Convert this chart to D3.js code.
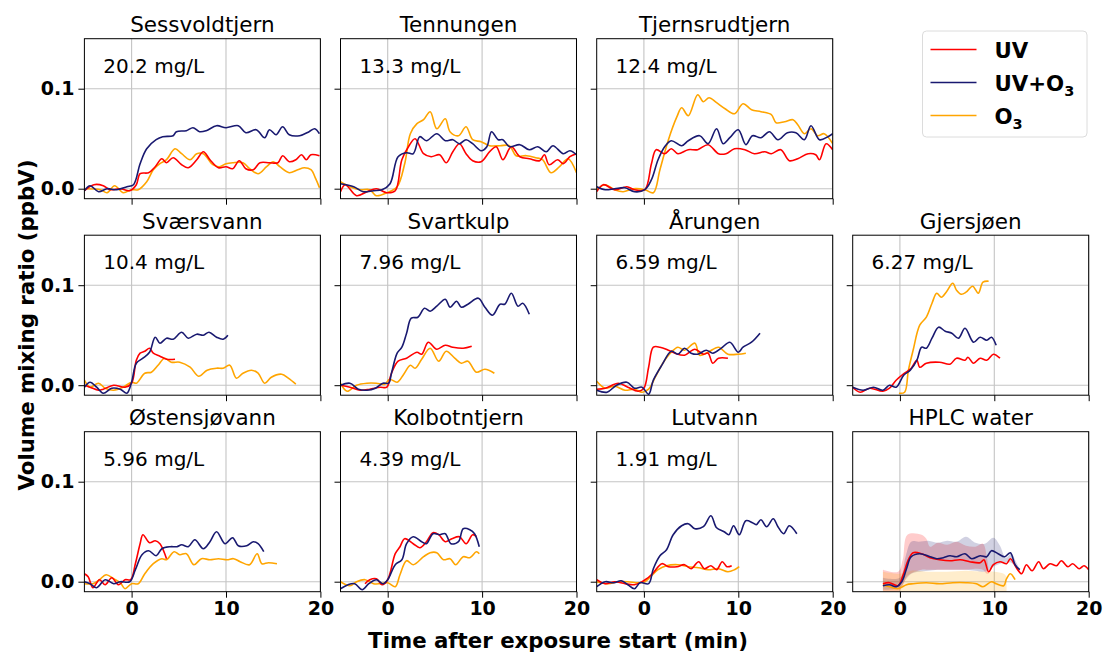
<!DOCTYPE html>
<html><head><meta charset="utf-8">
<script src="https://cdn.jsdelivr.net/npm/d3@7"></script>
<style>body{margin:0;background:#fff}svg{font-family:"DejaVu Sans",sans-serif}</style>
</head><body><svg id="c" width="1104" height="655"></svg>
<script>
const lakes = ["Sessvoldtjern","Tennungen","Tjernsrudtjern","Sværsvann","Svartkulp","Årungen","Gjersjøen","Østensjøvann","Kolbotntjern","Lutvann","HPLC water"];
const docLabels = ["20.2 mg/L","13.3 mg/L","12.4 mg/L","10.4 mg/L","7.96 mg/L","6.59 mg/L","6.27 mg/L","5.96 mg/L","4.39 mg/L","1.91 mg/L",""];
const seriesNames = ["UV","UV+O3","O3"];
const xTicks = [0,10,20];
const yTicks = [0,0.1];

// UV (red) series per lake: [time (min), ppbV]
const UV = [
 [[-5,-0.002],[-4,0.004],[-3,0.003],[-2.3,-0.001],[-1.2,0],[-0.2,-0.002],[0.5,0.004],[0.9,0.015],[1.8,0.016],[2.5,0.022],[3.2,0.030],[3.7,0.026],[4.4,0.031],[5.3,0.024],[6,0.021],[6.9,0.029],[7.6,0.037],[8.3,0.029],[9.2,0.021],[10,0.022],[10.7,0.020],[11.4,0.028],[12.1,0.020],[12.9,0.019],[13.6,0.026],[14.6,0.026],[15.5,0.026],[16,0.033],[16.7,0.027],[17.4,0.029],[18,0.034],[18.5,0.029],[19,0.034],[19.9,0.033]],
 [[-5,-0.003],[-4.5,0.004],[-3.3,-0.007],[-2.2,-0.003],[-1.2,0],[-0.1,-0.004],[0.8,-0.002],[1.5,0.029],[2.2,0.042],[2.9,0.050],[3.8,0.035],[4.6,0.032],[5.5,0.034],[6.2,0.026],[6.9,0.037],[7.6,0.045],[8.3,0.035],[9,0.028],[9.9,0.027],[10.8,0.037],[11.5,0.042],[12.2,0.029],[13.1,0.042],[14,0.032],[15,0.030],[16.1,0.028],[16.6,0.034],[17.1,0.024],[18,0.029],[18.6,0.025],[19.3,0.032],[20,0.035]],
 [[-5,-0.003],[-4.3,0.004],[-3.1,-0.001],[-1.8,0.002],[-1,-0.001],[0.1,-0.001],[0.8,0.025],[1.3,0.039],[2.2,0.035],[2.9,0.040],[3.6,0.035],[4.7,0.039],[5.7,0.039],[6.8,0.044],[7.9,0.035],[8.7,0.035],[9.6,0.040],[10.7,0.039],[11.7,0.035],[12.8,0.037],[13.5,0.035],[14.5,0.039],[15.4,0.028],[16.3,0.030],[17.4,0.035],[18.2,0.034],[18.6,0.029],[19.3,0.045],[20,0.039]],
 [[-5,0],[-4.4,-0.002],[-3.5,-0.005],[-3,-0.004],[-1.9,0],[-0.7,-0.002],[0,0.002],[0.5,0.025],[0.9,0.032],[1.4,0.034],[1.9,0.037],[2.3,0.032],[3,0.029],[3.7,0.026],[4.6,0.026]],
 [[-5,0],[-4,-0.002],[-2.9,-0.005],[-1.9,-0.004],[-0.8,-0.002],[-0.1,-0.002],[0.4,0.012],[1.1,0.024],[2,0.027],[3.1,0.033],[3.6,0.031],[4.3,0.043],[5.2,0.036],[6.1,0.040],[6.9,0.038],[8,0.037],[8.9,0.039]],
 [[-5,-0.004],[-4.1,-0.003],[-2.7,0.002],[-1.7,-0.002],[-0.6,-0.006],[0,-0.003],[0.5,0.018],[1,0.038],[1.7,0.038],[2.6,0.035],[3.3,0.032],[4.3,0.030],[5.4,0.036],[6.3,0.031],[6.8,0.032],[7.3,0.022],[7.9,0.027],[8.9,0.027]],
 [[-5,-0.002],[-4.2,-0.007],[-3.2,-0.003],[-1.8,-0.006],[-1.1,-0.003],[-0.4,0.005],[0.5,0.012],[1.2,0.017],[1.8,0.025],[2.1,0.018],[2.8,0.022],[4.2,0.023],[5.3,0.021],[6,0.027],[6.9,0.025],[7.2,0.028],[7.8,0.022],[8.5,0.027],[9.2,0.025],[9.9,0.031],[10.6,0.027]],
 [[-5,0.008],[-4.6,0.005],[-4.1,-0.006],[-3.4,0.002],[-2.8,-0.003],[-2.1,0.004],[-1.4,-0.003],[-0.7,0.002],[-0.1,0.002],[0.4,0.018],[0.9,0.038],[1.2,0.047],[1.9,0.039],[2.5,0.041],[3,0.038],[3.7,0.023]],
 [[-2.4,-0.002],[-1.9,0.002],[-1.2,0.003],[-0.6,-0.003],[0,0.002],[0.8,0.028],[1.3,0.035],[1.8,0.043],[2.7,0.038],[3.4,0.034],[4.1,0.040],[4.8,0.049],[5.4,0.047],[6.1,0.040],[6.8,0.043],[7.6,0.045],[8.3,0.038],[9,0.047],[9.4,0.045]],
 [[-5,0.002],[-4.1,-0.002],[-3.1,0],[-2,-0.002],[-1,-0.003],[-0.2,0],[0.3,0.003],[1,0.009],[1.9,0.018],[2.6,0.015],[3.5,0.015],[4.3,0.017],[5,0.013],[5.8,0.020],[6.4,0.013],[7.1,0.016],[7.7,0.012],[8.3,0.020],[8.8,0.015],[9.3,0.016]],
 [[-1.8,-0.002],[-1.1,-0.001],[-0.2,-0.004],[0.35,0.007],[0.9,0.022],[1.4,0.029],[2.3,0.028],[3.2,0.024],[4.2,0.022],[5.3,0.021],[6.4,0.022],[7.4,0.020],[8.5,0.019],[8.9,0.022],[9.4,0.010],[9.9,0.017],[10.6,0.020],[11.3,0.018],[11.7,0.023],[12.4,0.013],[12.9,0.008],[13.4,0.017],[14,0.011],[14.7,0.020],[15.2,0.013],[15.9,0.018],[16.6,0.016],[17.1,0.021],[17.8,0.015],[18.3,0.018],[19,0.013],[19.5,0.016],[20,0.012]]
];
// UV+O3 (navy) series
const UVO3 = [
 [[-5,-0.002],[-4.4,0.003],[-3.5,-0.003],[-2.6,0],[-1.6,-0.001],[-0.5,0.002],[0.2,0.004],[0.9,0.025],[1.6,0.040],[2.6,0.049],[3.3,0.052],[4.4,0.053],[4.75,0.057],[5.8,0.058],[6.5,0.061],[7.2,0.057],[7.9,0.058],[9,0.063],[10,0.061],[11.3,0.063],[12.1,0.056],[13.2,0.059],[14.1,0.051],[14.6,0.059],[15.3,0.054],[16,0.062],[16.7,0.054],[17.8,0.053],[18.8,0.057],[19.4,0.060],[19.9,0.055]],
 [[-5,0.005],[-3.6,0.002],[-2.6,-0.003],[-1.5,-0.002],[-0.6,-0.001],[0.25,0.005],[1.1,0.032],[2,0.036],[2.7,0.035],[3.4,0.052],[4.1,0.048],[5.2,0.055],[6.1,0.048],[6.9,0.049],[7.6,0.045],[8.3,0.049],[9,0.045],[9.9,0.038],[10.5,0.042],[11,0.057],[11.7,0.049],[12.2,0.049],[12.9,0.042],[14,0.044],[15,0.039],[15.9,0.042],[16.8,0.037],[17.5,0.043],[18.6,0.035],[19.3,0.038],[20,0.034]],
 [[-5,0.002],[-4.1,-0.001],[-3.1,0],[-2,0.001],[-1,-0.003],[0.1,-0.001],[0.8,0.009],[1.5,0.029],[2.2,0.042],[2.9,0.048],[4,0.043],[4.7,0.048],[5.9,0.053],[6.8,0.045],[7.7,0.060],[8.4,0.045],[9.1,0.051],[10,0.059],[10.8,0.044],[11.5,0.053],[12.4,0.051],[13.3,0.057],[14.2,0.049],[15.2,0.056],[16.1,0.056],[17,0.049],[17.7,0.063],[18.6,0.049],[19.5,0.052],[20,0.055]],
 [[-5,-0.002],[-4.4,0.003],[-3.7,-0.002],[-3,-0.008],[-2.1,-0.003],[-1.2,-0.004],[-0.5,-0.008],[0,0.003],[0.5,0.022],[1.2,0.027],[1.9,0.033],[2.5,0.048],[3,0.042],[3.7,0.047],[4.4,0.046],[5.3,0.053],[6,0.047],[6.9,0.051],[7.6,0.050],[8.2,0.053],[9,0.048],[9.7,0.046],[10.2,0.050]],
 [[-5,0],[-4,0.002],[-3.1,-0.004],[-2.2,-0.005],[-1.3,-0.003],[-0.5,0.002],[0.1,0.002],[0.4,0.012],[1,0.032],[1.5,0.038],[2,0.052],[2.5,0.067],[3.2,0.068],[3.9,0.077],[4.5,0.074],[5.2,0.079],[6.1,0.086],[6.6,0.078],[7.3,0.084],[7.8,0.078],[8.5,0.081],[9.6,0.087],[10.3,0.078],[11.1,0.070],[11.9,0.081],[12.4,0.081],[13.1,0.092],[13.8,0.079],[14.3,0.082],[15,0.071]],
 [[-5,-0.005],[-3.9,-0.007],[-2.9,0],[-1.8,0.003],[-1,-0.003],[-0.2,-0.002],[0.5,-0.009],[1,0.005],[1.9,0.020],[2.9,0.034],[3.6,0.031],[4.3,0.037],[5,0.032],[5.7,0.031],[6.6,0.035],[7.3,0.032],[8.2,0.037],[9.1,0.043],[10,0.033],[10.5,0.038],[11.4,0.043],[12.3,0.052]],
 [[-5,-0.002],[-3.9,-0.005],[-2.8,-0.002],[-1.8,-0.005],[-1.1,0],[-0.4,-0.002],[0.4,0.010],[1.1,0.015],[1.8,0.025],[2.3,0.038],[2.8,0.037],[3.4,0.047],[4.1,0.058],[4.8,0.054],[5.5,0.052],[6.2,0.047],[6.9,0.057],[7.8,0.043],[8.5,0.048],[9.2,0.045],[9.7,0.048],[10.2,0.040]],
 [[-5,0],[-4.4,-0.002],[-3.7,-0.006],[-2.8,0.002],[-1.9,-0.002],[-1.2,0],[-0.2,0],[0.4,0.012],[1.1,0.027],[1.8,0.031],[2.6,0.026],[3.2,0.033],[4.1,0.035],[4.8,0.035],[5.3,0.037],[6,0.035],[6.7,0.042],[7.6,0.033],[8.3,0.040],[9,0.050],[9.9,0.038],[10.7,0.044],[11.3,0.036],[12.2,0.036],[12.9,0.040],[13.4,0.038],[14,0.030]],
 [[-5,-0.007],[-4.2,-0.003],[-3.5,-0.002],[-2.7,-0.008],[-2,-0.002],[-1.2,0.002],[-0.5,-0.002],[0,0.002],[0.8,0.017],[1.5,0.022],[2,0.038],[2.7,0.045],[3.6,0.040],[4.1,0.038],[4.8,0.048],[5.5,0.047],[6.1,0.048],[6.7,0.038],[7.5,0.040],[8,0.053],[8.7,0.052],[9.2,0.048],[9.7,0.035]],
 [[-5,-0.005],[-4.1,0],[-3.2,-0.001],[-2.4,0.001],[-1.7,-0.003],[-1,-0.007],[-0.4,-0.001],[0.5,-0.002],[1,0.013],[1.7,0.026],[2.4,0.032],[3.1,0.047],[4,0.056],[4.7,0.058],[5.4,0.053],[6.3,0.055],[7.1,0.066],[7.7,0.054],[8.5,0.050],[9,0.047],[9.5,0.056],[10.1,0.047],[10.8,0.061],[11.5,0.059],[11.9,0.057],[12.4,0.062],[13,0.055],[13.7,0.063],[14.2,0.055],[14.8,0.048],[15.4,0.056],[16.2,0.048]],
 [[-1.8,-0.004],[-1.1,-0.003],[-0.4,-0.005],[0.2,0],[0.7,0.013],[1.2,0.025],[2.1,0.028],[3.2,0.025],[3.9,0.023],[4.6,0.024],[5.3,0.026],[6,0.025],[6.9,0.028],[7.6,0.023],[8.5,0.026],[9.2,0.025],[9.7,0.031],[10.4,0.028],[11.1,0.025],[11.7,0.029],[12.2,0.017],[12.7,0.012]]
];
// O3 (orange) series
const O3 = [
 [[-5,0],[-3.3,-0.001],[-2.6,-0.004],[-1.8,0.003],[-0.9,-0.004],[0,-0.001],[0.7,-0.001],[1.6,0.007],[2.3,0.019],[3,0.025],[3.7,0.029],[4.6,0.040],[5.3,0.035],[6.2,0.029],[6.9,0.035],[7.6,0.035],[8.6,0.024],[9.3,0.022],[10,0.025],[10.7,0.026],[11.8,0.026],[12.5,0.020],[13.4,0.015],[14.3,0.022],[15,0.027],[15.7,0.022],[16.7,0.016],[17.6,0.019],[18.3,0.021],[19,0.019],[19.5,0.010],[19.9,0.001]],
 [[-5,0.007],[-4,0.002],[-2.9,-0.001],[-1.9,-0.001],[-1.2,-0.007],[-0.1,-0.004],[1,0.002],[1.8,0.025],[2.4,0.055],[3.1,0.065],[3.8,0.069],[4.5,0.077],[5.2,0.060],[6.1,0.070],[6.6,0.057],[7.5,0.053],[8.3,0.062],[9,0.049],[9.9,0.047],[10.8,0.043],[11.9,0.043],[12.9,0.043],[13.6,0.033],[14.7,0.033],[15.7,0.031],[16.4,0.029],[17.3,0.016],[18.2,0.022],[19.1,0.030],[20,0.016]],
 [[-5,-0.001],[-4.1,0.004],[-3.1,-0.001],[-2.2,-0.003],[-1.1,0],[0.1,-0.001],[1,-0.004],[1.7,0.019],[2.6,0.049],[3.5,0.072],[4,0.081],[4.7,0.073],[5.7,0.094],[6.3,0.087],[6.9,0.091],[7.7,0.086],[8.6,0.080],[9.6,0.075],[10.5,0.085],[11.4,0.079],[12.4,0.077],[13.5,0.074],[14,0.066],[14.9,0.067],[15.8,0.069],[16.3,0.064],[17,0.055],[17.7,0.060],[18.4,0.053],[19.1,0.055],[20,0.045]],
 [[-5,0.005],[-4.4,-0.002],[-3.5,0.002],[-2.8,-0.003],[-1.9,-0.005],[-0.9,-0.002],[0,0.003],[0.5,0.002],[1.4,0.012],[2.1,0.013],[2.8,0.020],[3.5,0.027],[4.2,0.023],[5.1,0.023],[6.2,0.018],[7.1,0.009],[8,0.015],[9,0.017],[9.7,0.017],[10.4,0.020],[11.1,0.007],[11.8,0.012],[12.7,0.015],[13.4,0.012],[14.1,0.002],[14.8,0.008],[15.9,0.011],[16.6,0.007],[17.4,0.001]],
 [[-5,0.002],[-4.3,-0.006],[-3.3,0],[-2.2,0.002],[-1.2,0.002],[-0.3,0.001],[0.2,0.006],[1,0.003],[1.7,0.011],[2.4,0.020],[2.9,0.017],[3.6,0.026],[4.5,0.037],[5.4,0.024],[6.2,0.034],[7.1,0.027],[7.8,0.022],[8.5,0.024],[9.4,0.013],[10.3,0.016],[11.3,0.012]],
 [[-5,0.004],[-4.1,-0.003],[-3.1,-0.001],[-2,-0.005],[-1,-0.004],[-0.2,-0.007],[0.5,-0.004],[1.2,0.008],[2,0.022],[2.9,0.033],[3.6,0.038],[4.3,0.035],[5.4,0.042],[5.9,0.030],[6.8,0.033],[7.9,0.038],[8.9,0.031],[10,0.031],[10.8,0.032]],
 [[-0.1,-0.008],[0.5,-0.007],[0.9,0.015],[1.4,0.035],[2.1,0.060],[2.8,0.068],[3.4,0.082],[3.9,0.092],[4.4,0.088],[4.9,0.093],[5.6,0.102],[6,0.095],[6.5,0.091],[7,0.093],[7.7,0.099],[8.3,0.092],[8.8,0.103],[9.4,0.104]],
 [[-5,-0.002],[-4.1,-0.002],[-3.4,0.002],[-2.7,0.007],[-1.9,0.003],[-1.2,-0.001],[-0.7,-0.007],[0,-0.002],[0.7,-0.002],[1.4,0.008],[2.3,0.018],[3.2,0.023],[3.7,0.022],[4.5,0.030],[5.1,0.027],[5.8,0.028],[6.6,0.017],[7.4,0.023],[8.3,0.022],[9.2,0.023],[10.1,0.022],[10.8,0.023],[11.5,0.020],[12.5,0.017],[13.3,0.028],[13.8,0.018],[14.5,0.019],[15.4,0.018]],
 [[-5,0],[-4,-0.004],[-3.3,0],[-2.4,0.002],[-1.5,-0.002],[-0.8,-0.002],[0,-0.001],[0.8,-0.005],[1.3,0.007],[2,0.021],[2.7,0.017],[3.8,0.025],[4.5,0.029],[5.2,0.029],[5.9,0.022],[6.6,0.023],[7.2,0.017],[8,0.025],[8.7,0.024],[9.4,0.030],[9.7,0.028]],
 [[-5,0],[-3.8,-0.002],[-2.7,0],[-1.7,0],[-0.6,-0.001],[0.1,0],[0.8,0.006],[1.5,0.012],[2.4,0.016],[3.6,0.017],[4.7,0.015],[5.8,0.014],[6.8,0.012],[7.9,0.013],[8.9,0.010],[9.6,0.012],[10.1,0.015]],
 [[-1.8,-0.003],[-1.1,-0.005],[-0.2,-0.007],[0.7,-0.003],[1.4,-0.002],[2.8,-0.001],[4.2,-0.002],[5.6,-0.001],[7,-0.001],[8.1,-0.002],[8.8,-0.005],[9.7,0],[10.2,-0.002],[11,-0.004],[11.3,0.003],[11.7,0.008],[12.2,0.002]]
];
// HPLC water spread bands: [time, lower, upper]
const bandUV = [[-1.8,-0.010,0.012],[-0.2,-0.010,0.010],[0.3,-0.004,0.022],[0.8,0.006,0.047],[2.3,0.012,0.047],[2.8,0.012,0.043],[3.2,0.012,0.035],[4,0.012,0.039],[5,0.012,0.037],[6,0.012,0.040],[7,0.012,0.036],[8,0.013,0.035],[8.8,0.012,0.038],[9.2,0.008,0.025],[9.4,0.008,0.012]];
const bandUVO3 = [[-1.8,-0.008,0.004],[0,-0.006,0.004],[0.6,0.002,0.025],[1.2,0.008,0.040],[2,0.010,0.040],[3,0.011,0.041],[4,0.012,0.039],[5,0.012,0.041],[6,0.012,0.040],[7,0.012,0.045],[8,0.011,0.039],[9,0.010,0.038],[9.9,0.015,0.044],[10.6,0.018,0.036],[11.2,0.019,0.024],[11.8,0.019,0.028],[12.3,0.014,0.020],[12.7,0.010,0.012]];
const bandO3 = [[-1.8,-0.016,0.010],[-0.2,-0.016,0.008],[0.5,-0.016,0.009],[1.2,-0.016,0.011],[3,-0.016,0.010],[5,-0.016,0.010],[7,-0.016,0.011],[9,-0.016,0.010],[10,-0.016,0.010],[11,-0.016,0.008],[11.3,-0.016,0.005]];

const colors = {UV:"#ff0000", UVO3:"#191970", O3:"#ffa500"};

const svg = d3.select("#c");
const colLeft = [84.4, 340.5, 596.7, 852.7];
const rowTop = [38.7, 235.2, 431.7];
const W = 236, H = 160;
const positions = [[0,0],[0,1],[0,2],[1,0],[1,1],[1,2],[1,3],[2,0],[2,1],[2,2],[2,3]];

const x = d3.scaleLinear().domain([-5,20]).range([0,W]);
const y = d3.scaleLinear().domain([-0.01,0.15]).range([H,0]);
const line = d3.line().x(d=>x(d[0])).y(d=>y(d[1])).curve(d3.curveCatmullRom.alpha(0.5));
const area = d3.area().x(d=>x(d[0])).y0(d=>y(d[1])).y1(d=>y(d[2])).curve(d3.curveCatmullRom.alpha(0.5));

svg.append("defs").append("clipPath").attr("id","clip").append("rect").attr("width",W).attr("height",H);

lakes.forEach((name,i)=>{
  const [r,c] = positions[i];
  const g = svg.append("g").attr("transform",`translate(${colLeft[c]},${rowTop[r]})`);
  // grid
  g.append("g").selectAll("line").data(xTicks).join("line")
    .attr("x1",d=>x(d)).attr("x2",d=>x(d)).attr("y1",0).attr("y2",H)
    .attr("stroke","#c4c4c4").attr("stroke-width",1.1);
  g.append("g").selectAll("line").data(yTicks).join("line")
    .attr("y1",d=>y(d)).attr("y2",d=>y(d)).attr("x1",0).attr("x2",W)
    .attr("stroke","#c4c4c4").attr("stroke-width",1.1);
  const plot = g.append("g").attr("clip-path","url(#clip)");
  if (name === "HPLC water") {
    [[bandUV,colors.UV],[bandUVO3,colors.UVO3],[bandO3,colors.O3]].forEach(([b,col])=>{
      plot.append("path").attr("d",area(b)).attr("fill",col).attr("fill-opacity",0.2).attr("stroke","none");
    });
  }
  [[O3[i],colors.O3],[UV[i],colors.UV],[UVO3[i],colors.UVO3]].forEach(([s,col])=>{
    plot.append("path").attr("d",line(s)).attr("fill","none").attr("stroke",col).attr("stroke-width",1.6);
  });
  // axes
  const ax = d3.axisBottom(x).tickValues(xTicks).tickSize(6).tickPadding(4)
     .tickFormat(r===2 ? d3.format("d") : ()=> "");
  const gx = g.append("g").attr("transform",`translate(0,${H})`).call(ax);
  const ay = d3.axisLeft(y).tickValues(yTicks).tickSize(6).tickPadding(4)
     .tickFormat(c===0 ? d3.format(".1f") : ()=> "");
  const gy = g.append("g").call(ay);
  [gx,gy].forEach(a=>{
    a.select(".domain").remove();
    a.selectAll(".tick line").attr("stroke","#000").attr("stroke-width",1);
    a.selectAll(".tick text").attr("fill","#000").attr("font-size",19).attr("font-weight","bold")
      .attr("font-family","DejaVu Sans");
  });
  g.append("rect").attr("width",W).attr("height",H).attr("fill","none").attr("stroke","#000").attr("stroke-width",1);
  g.append("text").attr("x",W/2).attr("y",-6.5).attr("text-anchor","middle")
    .attr("font-size",21.5).attr("fill","#000").text(name);
  if (docLabels[i]) {
    g.append("text").attr("x",x(-3)).attr("y",y(0.116)).attr("font-size",20).attr("fill","#000").text(docLabels[i]);
  }
});

// legend
const lg = svg.append("g").attr("transform","translate(922.5,31)");
lg.append("rect").attr("width",164.5).attr("height",106).attr("rx",4).attr("fill","#fff")
  .attr("stroke","#dcdcdc").attr("stroke-width",1);
const legendItems = [["UV",colors.UV,null],["UV+O",colors.UVO3,"3"],["O",colors.O3,"3"]];
legendItems.forEach(([lab,col,sub],k)=>{
  const yy = 18.5 + k*33;
  lg.append("line").attr("x1",8).attr("x2",54).attr("y1",yy).attr("y2",yy).attr("stroke",col).attr("stroke-width",1.6);
  const t = lg.append("text").attr("x",72).attr("y",yy+8).attr("font-size",21.3).attr("font-weight","bold").attr("fill","#000");
  t.append("tspan").text(lab);
  if (sub) t.append("tspan").attr("font-size",14.5).attr("dy",5).text(sub);
});

// axis titles
svg.append("text").attr("x",558).attr("y",648).attr("text-anchor","middle")
  .attr("font-size",21.3).attr("font-weight","bold").attr("fill","#000").text("Time after exposure start (min)");
svg.append("text").attr("transform","translate(34,325) rotate(-90)").attr("text-anchor","middle")
  .attr("font-size",21.3).attr("font-weight","bold").attr("fill","#000").text("Volume mixing ratio (ppbV)");
</script></body></html>
